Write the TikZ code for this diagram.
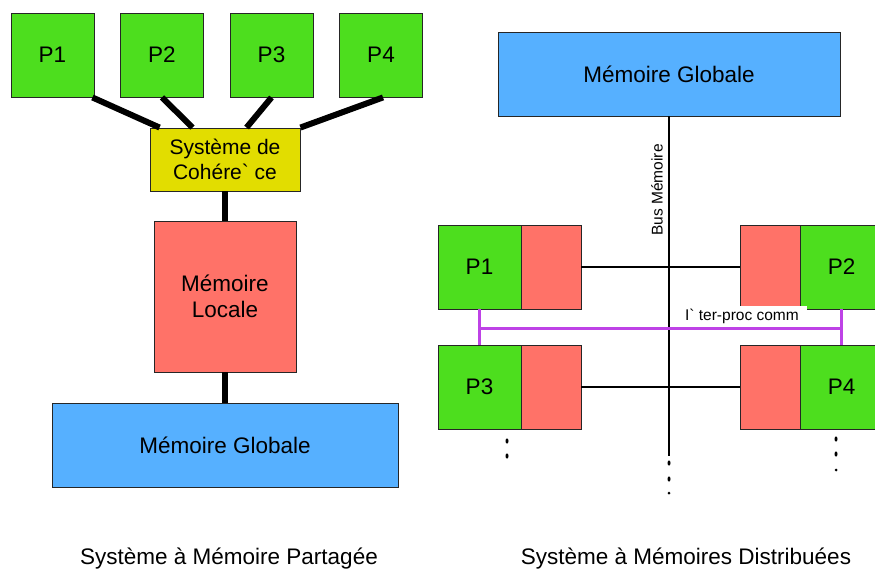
\documentclass[tikz,border=0pt]{standalone}
\usepackage{fontspec}
\setmainfont{Liberation Sans}
\usetikzlibrary{calc}

\definecolor{procgreen}{RGB}{77,222,30}
\definecolor{memred}{RGB}{255,114,104}
\definecolor{memblue}{RGB}{86,176,255}
\definecolor{cohyellow}{RGB}{226,221,0}
\definecolor{commpurple}{RGB}{190,66,230}

\begin{document}
\begin{tikzpicture}[x=1pt,y=-1pt,
  box/.style={draw=black!85, line width=0.9pt, inner sep=0pt, align=center,
              font=\fontsize{22.5}{26}\selectfont},
  proc/.style={box, fill=procgreen, minimum width=83, minimum height=84},
  locmem/.style={box, fill=memred, minimum width=60, minimum height=84},
  bar/.style={line width=6pt},
  bus/.style={line width=2.6pt},
  comm/.style={commpurple, line width=2.6pt},
  caption/.style={font=\fontsize{22.5}{26}\selectfont, anchor=base}
]
\useasboundingbox (0,0) rectangle (875,571);
\clip (0,0) rectangle (875,571);

% ---------- shared-memory system ----------
\node[proc] (lp1) at (52.5,55) {P1};
\node[proc] (lp2) at (162,55)  {P2};
\node[proc] (lp3) at (271.5,55) {P3};
\node[proc] (lp4) at (381,55)  {P4};

\node[box, fill=cohyellow, minimum width=150, minimum height=63,
      font=\fontsize{21}{25}\selectfont] (coh) at (225,159.5)
      {Système de\\Cohére\textasciigrave{} ce};
\node[box, fill=memred, minimum width=142, minimum height=151] (loc) at (225,296.5)
      {Mémoire\\Locale};
\node[box, fill=memblue, minimum width=346, minimum height=84] (globL) at (225,445)
      {Mémoire Globale};

\draw[bar] ($(lp1.south east)+(-2,0)$) -- ($(coh.north west)+(10,0)$);
\draw[bar] (lp2.south) -- ($(coh.north west)+(43,0)$);
\draw[bar] (lp3.south) -- ($(coh.north west)+(97,0)$);
\draw[bar] ($(lp4.south)+(2,0)$) -- (coh.north east);
\draw[bar] (coh.south) -- (loc.north);
\draw[bar] (loc.south) -- (globL.north);

\node[caption] (capL) at (229,564) {Système à Mémoire Partagée};

% ---------- distributed-memory system ----------
\node[box, fill=memblue, minimum width=342, minimum height=84] (globR) at (669,74)
      {Mémoire Globale};

\coordinate (busend) at (669,456);
\draw[bus] (globR.south) -- (busend);
\node[font=\fontsize{15.5}{18}\selectfont, rotate=90] (buslbl) at (657,190) {Bus Mémoire};

\node[proc]   (g1) at (479.5,267) {P1};
\node[locmem] (r1) at (551,267)   {};
\node[locmem] (r2) at (770,267)   {};
\node[proc]   (g2) at (841.5,267) {P2};
\node[proc]   (g3) at (479.5,387) {P3};
\node[locmem] (r3) at (551,387)   {};
\node[locmem] (r4) at (770,387)   {};
\node[proc]   (g4) at (841.5,387) {P4};

\draw[bus] (r1.east) -- (r2.west);
\draw[bus] (r3.east) -- (r4.west);

% inter-processor link
\coordinate (cl) at ($(g1.south)!0.55!(g3.north)$);
\coordinate (cr) at ($(g2.south)!0.55!(g4.north)$);
\draw[comm] (g1.south) -- (g3.north);
\draw[comm] (g2.south) -- (g4.north);
\draw[comm] (cl) -- (cr);
\node[fill=white, inner sep=0pt, minimum width=131, minimum height=21,
      anchor=south, font=\fontsize{15.5}{18}\selectfont] (commlbl)
      at ($(cl)!0.725!(cr)+(0,-1.3)$) {I\textasciigrave{} ter-proc comm};

% continuation dots
\foreach \y in {463,479} \fill (669,\y) ellipse (1.5 and 2.6);
\fill (669,493) circle (1.5);
\foreach \y in {441,456} \fill (507,\y) ellipse (1.5 and 2.6);
\foreach \y in {439,454} \fill (836,\y) ellipse (1.5 and 2.6);
\fill (836,470) circle (1.5);

\node[caption] (capR) at (686,564) {Système à Mémoires Distribuées};
\end{tikzpicture}
\end{document}
